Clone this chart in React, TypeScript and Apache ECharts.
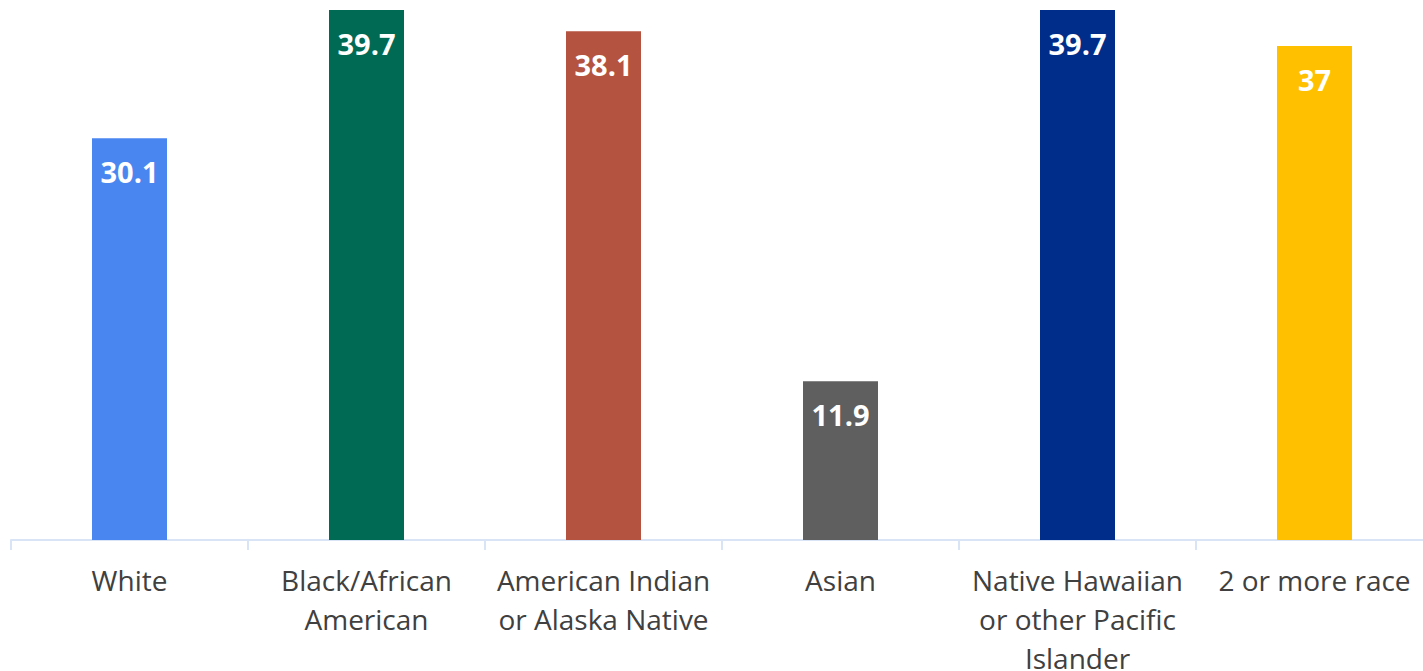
import React, { useEffect, useRef } from "react";
import * as echarts from "echarts";

const categories = [
  "White",
  "Black/African\nAmerican",
  "American Indian\nor Alaska Native",
  "Asian",
  "Native Hawaiian\nor other Pacific\nIslander",
  "2 or more race",
];
const values = [30.1, 39.7, 38.1, 11.9, 39.7, 37];
const barColors = ["#4A86F0", "#006A55", "#B4533F", "#5F5F5F", "#002D8A", "#FFC000"];

export default function App() {
  const ref = useRef<HTMLDivElement>(null);
  useEffect(() => {
    if (!ref.current) return;
    const chart = echarts.init(ref.current, undefined, { renderer: "svg" });
    chart.setOption({
      animation: false,
      grid: {
        left: 11,
        right: -10,
        top: 10,
        bottom: 131,
        containLabel: false,
        outerBoundsMode: "none",
      },
      xAxis: {
        type: "category",
        data: categories,
        axisLine: { show: true, lineStyle: { color: "#D9E5F7", width: 2 } },
        axisTick: { show: true, length: 10, lineStyle: { color: "#D9E5F7", width: 2 } },
        axisLabel: {
          interval: 0,
          margin: 20,
          fontSize: 28,
          lineHeight: 39,
          color: "#404040",
          fontFamily: "Open Sans",
        },
      },
      yAxis: {
        type: "value",
        min: 0,
        max: 39.7,
        show: false,
        splitLine: { show: false },
      },
      series: [
        {
          type: "bar",
          barWidth: 75,
          data: values.map((v, i) => ({ value: v, itemStyle: { color: barColors[i] } })),
          label: {
            show: true,
            position: "insideTop",
            distance: 19,
            color: "#FFFFFF",
            fontWeight: "bold",
            fontSize: 29,
            fontFamily: "Open Sans",
          },
        },
      ],
    });
    return () => chart.dispose();
  }, []);
  return (
    <div
      ref={ref}
      style={{ position: "fixed", left: 0, top: 0, width: 1423, height: 671, background: "#fff" }}
    />
  );
}
